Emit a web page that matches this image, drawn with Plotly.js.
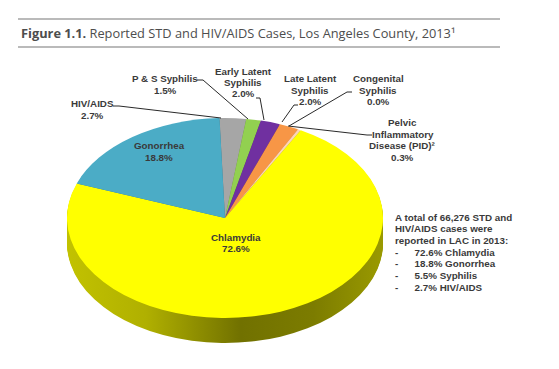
<!DOCTYPE html>
<html>
<head>
<meta charset="utf-8">
<script src="https://cdn.plot.ly/plotly-3.0.1.min.js"></script>
<style>html,body{margin:0;padding:0;background:#fff;} #chart{width:559px;height:369px;}</style>
</head>
<body>
<div id="chart"></div>
<script>
// ---- data ----
const categories = ['HIV/AIDS', 'P & S Syphilis', 'Early Latent Syphilis', 'Late Latent Syphilis',
  'Congenital Syphilis', 'Pelvic Inflammatory Disease (PID)', 'Chlamydia', 'Gonorrhea'];
const percents = [2.7, 1.5, 2.0, 2.0, 0.0, 0.3, 72.6, 18.8];
const sliceColors = ['#a6a6a6', '#92d050', '#7030a0', '#f79646', '#c0504d', '#fcd5b5', '#ffff00', '#4bacc6'];
const sideColors  = ['#6e6e6e', '#5f8a32', '#4a2069', '#a9652f', '#803533', '#a88e78', '#a8a800', '#327385'];
const summaryLines = ['A total of 66,276 STD and', 'HIV/AIDS cases were', 'reported in LAC in 2013:'];
const summaryItems = ['72.6% Chlamydia', '18.8% Gonorrhea', '5.5% Syphilis', '2.7% HIV/AIDS'];

const W = 559, H = 369;
const px = x => x / W, py = y => 1 - y / H;

// pie geometry (pixels)
const CX = 225, CY = 218, RX = 158, RY = 100, DEPTH = 25;
const dom = {x: [(CX - RX) / W, (CX + RX) / W], y: [0.08, 0.08 + 2 * RX / H]};

const traces = [];
const nLayers = DEPTH;
for (let i = 0; i < nLayers; i++) {
  traces.push({type: 'pie', values: percents, labels: categories, sort: false, direction: 'clockwise',
    rotation: -2, textinfo: 'none', hoverinfo: 'skip', showlegend: false, domain: dom,
    marker: {colors: sideColors, line: {width: 0}}});
}
traces.push({type: 'pie', values: percents, labels: categories, sort: false, direction: 'clockwise',
  rotation: -2, textinfo: 'none', hoverinfo: 'skip', showlegend: false, domain: dom,
  marker: {colors: sliceColors, line: {width: 0}}});

const LF = 'Liberation Sans, Arial, sans-serif';
const labelColor = '#3a3a3a';
const ann = [];
function txt(x, y, s, opts) {
  ann.push(Object.assign({xref: 'paper', yref: 'paper', x: px(x), y: py(y), text: s, showarrow: false,
    xanchor: 'center', yanchor: 'middle', font: {family: LF, size: 9.8, color: labelColor}}, opts || {}));
}
function block(x, y0, lines, step) { lines.forEach((l, i) => txt(x, y0 + i * step, '<b>' + l + '</b>')); }

block(92, 103, [categories[0], percents[0].toFixed(1) + '%'], 12);
block(165, 78, [categories[1], percents[1].toFixed(1) + '%'], 12);
block(243, 71, ['Early Latent', 'Syphilis', percents[2].toFixed(1) + '%'], 11.3);
block(310, 79, ['Late Latent', 'Syphilis', percents[3].toFixed(1) + '%'], 11.3);
block(378, 79, ['Congenital', 'Syphilis', percents[4].toFixed(1) + '%'], 11.3);
block(403, 123, ['Pelvic', 'Inflammatory', 'Disease (PID)²', percents[5].toFixed(1) + '%'], 11.4);
block(159, 146, [categories[7], percents[7].toFixed(1) + '%'], 11.5);
block(236, 237, [categories[6], percents[6].toFixed(1) + '%'], 11.5);

summaryLines.forEach((l, i) => txt(393, 217 + i * 11.8, '<b>' + l + '</b>', {xanchor: 'left'}));
const gap = '&nbsp;'.repeat(6);
summaryItems.forEach((l, i) => txt(393, 252 + i * 11.7, '<b>-' + gap + l + '</b>', {xanchor: 'left'}));

// title
ann.push({xref: 'paper', yref: 'paper', x: px(19), y: py(33), xanchor: 'left', yanchor: 'middle', showarrow: false,
  text: '<b>Figure 1.1.</b> Reported STD and HIV/AIDS Cases, Los Angeles County, 2013¹',
  font: {family: 'Open Sans, sans-serif', size: 12.8, color: '#4d4d4d'}});

const shapes = [];
function seg(x0, y0, x1, y1, c, w) {
  shapes.push({type: 'line', xref: 'paper', yref: 'paper', x0: px(x0), y0: py(y0), x1: px(x1), y1: py(y1),
    line: {color: c || '#111', width: w || 0.9}});
}
seg(18, 19, 500, 19, '#a3a3a3', 1.6);
seg(18, 47, 500, 47, '#a3a3a3', 1.6);
// leader lines
seg(113, 106, 119, 106); seg(119, 106, 221, 118);
seg(197, 80, 203, 80); seg(203, 80, 248, 119);
seg(256, 98, 260, 98); seg(260, 98, 264, 120);
seg(298, 105, 294, 105); seg(294, 105, 282, 122);
seg(352, 92, 347, 92); seg(347, 92, 289, 126);
seg(372, 135, 367, 135); seg(367, 135, 288, 126);

const layout = {width: W, height: H, margin: {l: 0, r: 0, t: 0, b: 0}, paper_bgcolor: '#ffffff',
  showlegend: false, annotations: ann, shapes: shapes};

Plotly.newPlot('chart', traces, layout, {staticPlot: true, displayModeBar: false}).then(gd => {
  // flatten pie into a tilted (elliptical) disc and stack the side layers
  const cx0 = (dom.x[0] + dom.x[1]) / 2 * W;
  const cy0 = (1 - (dom.y[0] + dom.y[1]) / 2) * H;
  const k = RY / RX;
  const svg = gd.querySelector('svg.main-svg');
  const NS = 'http://www.w3.org/2000/svg';
  let defs = svg.querySelector('defs');
  if (!defs) { defs = document.createElementNS(NS, 'defs'); svg.insertBefore(defs, svg.firstChild); }
  const grad = document.createElementNS(NS, 'linearGradient');
  grad.setAttribute('id', 'sideGrad');
  grad.setAttribute('gradientUnits', 'userSpaceOnUse');
  grad.setAttribute('x1', CX - RX); grad.setAttribute('x2', CX + RX);
  grad.setAttribute('y1', 0); grad.setAttribute('y2', 0);
  [[0, '#c2c200'], [0.25, '#b0b000'], [0.55, '#717100'], [0.78, '#7c7c00'], [1, '#9a9a00']].forEach(([o, c]) => {
    const s = document.createElementNS(NS, 'stop');
    s.setAttribute('offset', o); s.setAttribute('stop-color', c); grad.appendChild(s);
  });
  defs.appendChild(grad);

  const groups = gd.querySelectorAll('.pielayer g.trace');
  const n = groups.length;
  groups.forEach((g, i) => {
    const off = (i === n - 1) ? 0 : DEPTH * (n - 1 - i) / (n - 1);
    const prev = g.getAttribute('transform') || '';
    g.setAttribute('transform', `translate(${CX},${CY + off}) scale(1,${k}) translate(${-cx0},${-cy0}) ${prev}`);
    if (i < n - 1) {
      g.querySelectorAll('g.slice').forEach(sl => {
        const d = sl.__data__;
        if (d && d.label === 'Chlamydia') {
          const p = sl.querySelector('path.surface');
          if (p) p.style.fill = 'url(#sideGrad)';
        }
      });
    }
  });
});
</script>
</body>
</html>
